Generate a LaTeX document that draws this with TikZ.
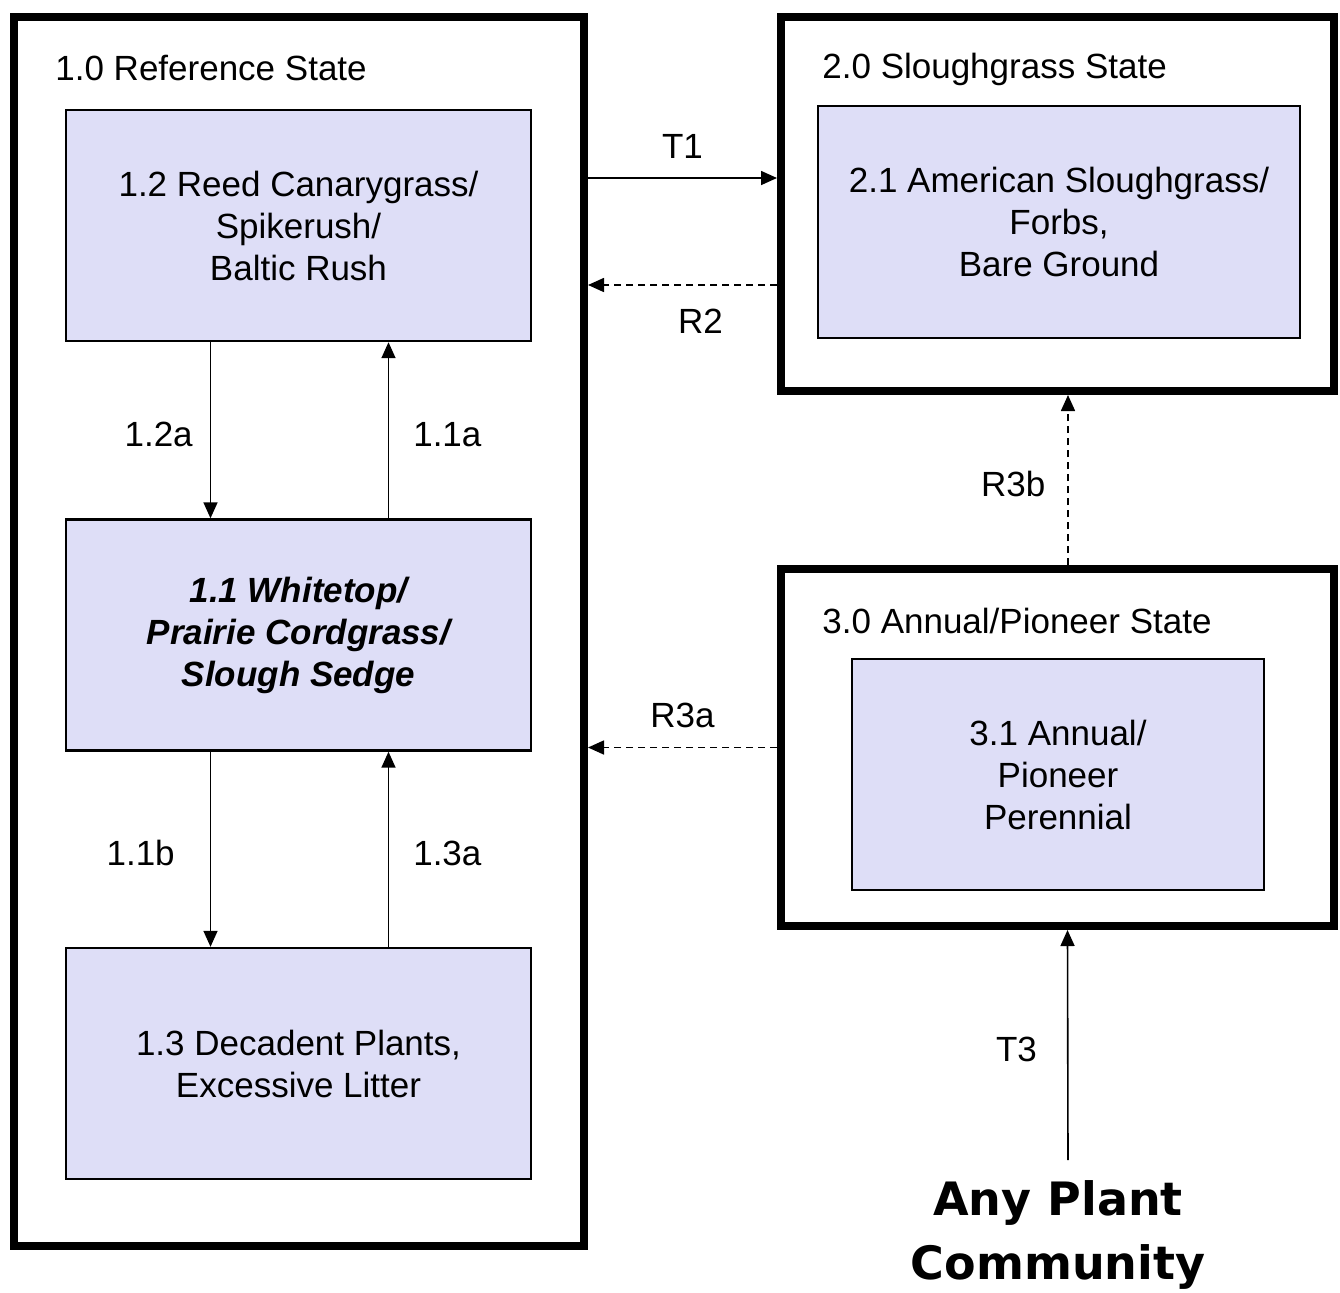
\documentclass[tikz,border=0pt]{standalone}
\usepackage{fontspec}
\setmainfont{Liberation Sans}
\newfontfamily\anyfont{DejaVu Sans}
\usetikzlibrary{positioning, arrows.meta}
\definecolor{lavColor}{RGB}{222, 222, 247}

\begin{document}
\begin{tikzpicture}[
    x=0.5pt, y=-0.5pt,
    statebox/.style={
        rectangle,
        draw=black,
        line width=4pt,
        inner sep=0pt
    },
    community/.style={
        rectangle,
        draw=black,
        line width=1.2pt,
        fill=lavColor,
        align=center,
        minimum width=232.5pt,
        minimum height=115.5pt,
        font=\fontsize{17.5}{21}\selectfont
    },
    heading/.style={
        anchor=west,
        inner sep=0pt,
        font=\fontsize{17.5}{21}\selectfont
    },
    tag/.style={
        inner sep=2pt,
        font=\fontsize{17.5}{21}\selectfont
    },
    transition/.style={
        -{Triangle[length=8pt, width=7pt]},
        line width=0.8pt
    },
    restoration/.style={
        transition,
        dash pattern=on 3.5pt off 2.5pt
    }
]
\useasboundingbox (0,0) rectangle (1340,1292);

% states
\node[statebox, minimum width=285pt, minimum height=614.5pt] (state1) at (299,631.5) {};
\node[statebox, minimum width=276.5pt, minimum height=187pt] (state2) at (1057.5,204) {};
\node[statebox, minimum width=276.5pt, minimum height=178.5pt] (state3) at (1057.5,747.5) {};

\node[heading] (head1) at (55,68) {1.0 Reference State};
\node[heading] (head2) at (822,69) {2.0 Sloughgrass State};
\node[heading] (head3) at (822,621) {3.0 Annual/Pioneer State};

% plant communities
\node[community] (pc12) at (298.5,225.5) {1.2 Reed Canarygrass/\\Spikerush/\\Baltic Rush};
\node[community, font=\fontsize{17.5}{21}\selectfont\bfseries\itshape] (pc11) at (298.5,635) {1.1 Whitetop/\\Prairie Cordgrass/\\Slough Sedge};
\node[community] (pc13) at (298.5,1063.5) {1.3 Decadent Plants,\\Excessive Litter};
\node[community, minimum width=241pt, minimum height=116pt] (pc21) at (1059,222) {2.1 American Sloughgrass/\\Forbs,\\Bare Ground};
\node[community, minimum width=206pt] (pc31) at (1058,774.5) {3.1 Annual/\\Pioneer\\Perennial};

\node[align=center, inner sep=0pt, font=\anyfont\bfseries\fontsize{23}{32}\selectfont] (anyplant) at (1058,1235) {Any Plant\\Community};

% pathways
\draw[transition] ([xshift=-44pt]pc12.south) -- node[tag, midway, left=6.5pt, yshift=-2pt] {1.2a} ([xshift=-44pt]pc11.north);
\draw[transition] ([xshift=45pt]pc11.north) -- node[tag, midway, right=10pt, yshift=-2pt] {1.1a} ([xshift=45pt]pc12.south);
\draw[transition] ([xshift=-44pt]pc11.south) -- node[tag, midway, left=15.5pt, yshift=-2pt] {1.1b} ([xshift=-44pt]pc13.north);
\draw[transition] ([xshift=45pt]pc13.north) -- node[tag, midway, right=10pt, yshift=-2pt] {1.3a} ([xshift=45pt]pc11.south);

% transitions and restorations
\coordinate (t1) at ([yshift=13pt]state2.west);
\coordinate (r2) at ([yshift=-40.5pt]state2.west);
\draw[transition] (state1.east |- t1) -- node[tag, midway, above=7.4pt] {T1} (t1);
\draw[restoration] (r2) -- node[tag, midway, below=9.4pt, xshift=9pt] {R2} (state1.east |- r2);
\draw[restoration] (state3.west) -- node[tag, midway, above=7.4pt] {R3a} (state1.east |- state3.west);
\draw[restoration] ([xshift=5.25pt]state3.north) -- node[tag, midway, left=8.9pt, yshift=-2pt] {R3b} ([xshift=5.25pt]state2.south);
\draw[transition] ([xshift=5pt, yshift=10pt]anyplant.north) -- node[tag, midway, left=13pt, yshift=-2pt] {T3} ([xshift=5pt]state3.south);

\end{tikzpicture}
\end{document}
